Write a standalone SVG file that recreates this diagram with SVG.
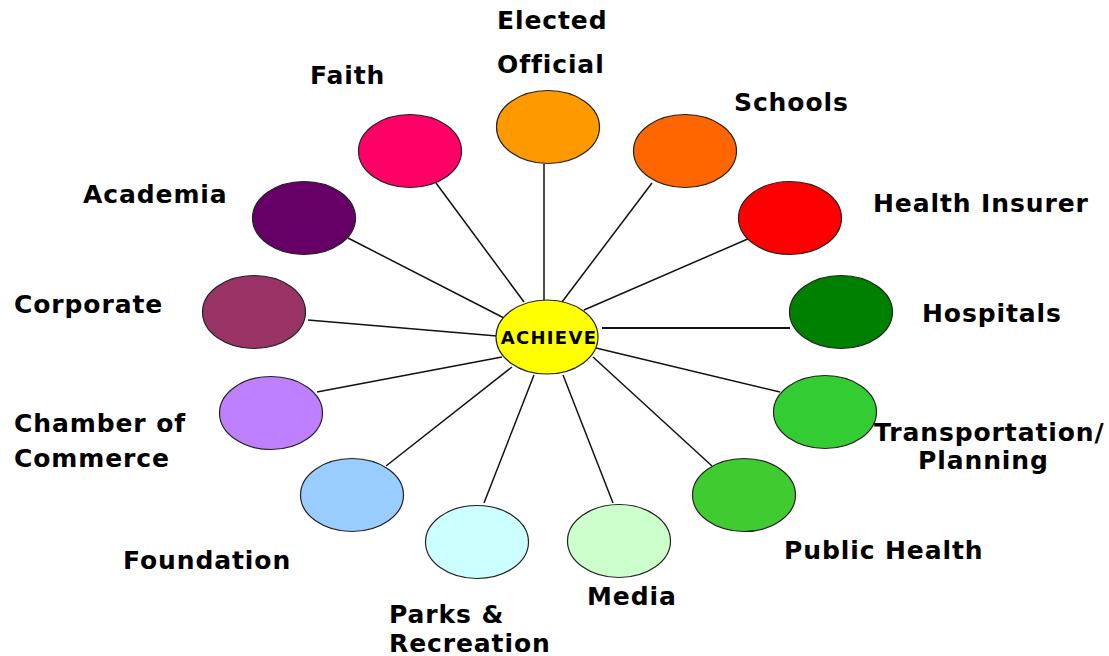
<svg xmlns="http://www.w3.org/2000/svg" width="1109" height="656" viewBox="0 0 1109 656">
<style>
.n{stroke:#222;stroke-width:1.2}
.c line{stroke:#111;stroke-width:1.5}
text{font-family:"DejaVu Sans",Verdana,sans-serif;font-weight:bold;font-size:25px;letter-spacing:0.9px;fill:#000}
.hub{font-size:18px;letter-spacing:1.3px}
</style>
<rect width="1109" height="656" fill="#fff"/>
<g id="connectors" class="c">
<line x1="524" y1="302" x2="436" y2="183"/>
<line x1="504" y1="318" x2="348" y2="238"/>
<line x1="497" y1="336" x2="308" y2="320"/>
<line x1="544" y1="302" x2="544" y2="164"/>
<line x1="562" y1="302" x2="652" y2="183"/>
<line x1="584" y1="310" x2="750" y2="238"/>
<line x1="602" y1="328" x2="790" y2="328" style="stroke-width:2"/>
<line x1="596" y1="348" x2="780" y2="392"/>
<line x1="593" y1="357" x2="712" y2="466"/>
<line x1="563" y1="375" x2="613" y2="503"/>
<line x1="502" y1="357" x2="317" y2="392"/>
<line x1="512" y1="367" x2="386" y2="466"/>
<line x1="534" y1="375" x2="484" y2="503"/>
</g>
<g id="faith"><ellipse class="n" cx="410" cy="151" rx="51.5" ry="36.5" fill="#FF0066"/><text x="310" y="84">Faith</text></g>
<g id="academia"><ellipse class="n" cx="304" cy="218" rx="51.5" ry="36.5" fill="#660066"/><text x="83" y="203">Academia</text></g>
<g id="corporate"><ellipse class="n" cx="254" cy="312" rx="51.5" ry="36.5" fill="#993366"/><text x="14" y="313">Corporate</text></g>
<g id="elected"><ellipse class="n" cx="548" cy="127" rx="51.5" ry="36.5" fill="#FF9900"/><text x="497" y="29">Elected</text><text x="497" y="73">Official</text></g>
<g id="schools"><ellipse class="n" cx="685" cy="151" rx="51.5" ry="36.5" fill="#FF6600"/><text x="734" y="111">Schools</text></g>
<g id="insurer"><ellipse class="n" cx="790" cy="218" rx="51.5" ry="36.5" fill="#FF0000"/><text x="873" y="212">Health Insurer</text></g>
<g id="hospitals"><ellipse class="n" cx="841" cy="312" rx="51.5" ry="36.5" fill="#008000"/><text x="922" y="322">Hospitals</text></g>
<g id="transport"><ellipse class="n" cx="825" cy="412" rx="51.5" ry="36.5" fill="#33CC33"/><text x="874" y="441">Transportation/</text><text x="918" y="469">Planning</text></g>
<g id="publichealth"><ellipse class="n" cx="744" cy="495" rx="51.5" ry="36.5" fill="#40CC30"/><text x="784" y="559">Public Health</text></g>
<g id="media"><ellipse class="n" cx="619" cy="541" rx="51.5" ry="36.5" fill="#CCFFCC"/><text x="587" y="605">Media</text></g>
<g id="parks"><ellipse class="n" cx="477" cy="542" rx="51.5" ry="36.5" fill="#CCFFFF"/><text x="389" y="623">Parks &amp;</text><text x="389" y="652">Recreation</text></g>
<g id="foundation"><ellipse class="n" cx="352" cy="495" rx="51.5" ry="36.5" fill="#99CCFF"/><text x="123" y="569">Foundation</text></g>
<g id="chamber"><ellipse class="n" cx="271" cy="413" rx="51.5" ry="36.5" fill="#BF80FF"/><text x="14" y="432">Chamber of</text><text x="14" y="467">Commerce</text></g>
<g id="achieve"><ellipse class="n" cx="547" cy="337" rx="51" ry="37" fill="#FFFF00"/><text class="hub" x="549" y="344" text-anchor="middle">ACHIEVE</text></g>
</svg>
